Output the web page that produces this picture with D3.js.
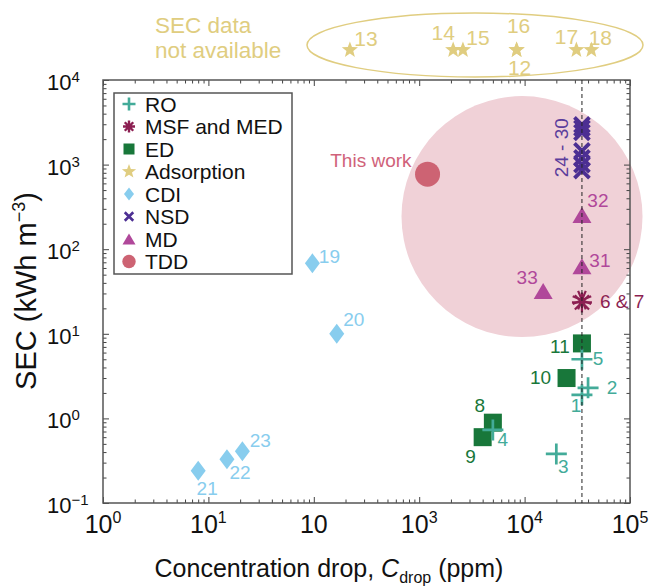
<!DOCTYPE html>
<html><head><meta charset="utf-8">
<script src="https://cdn.jsdelivr.net/npm/d3@7"></script>
<style>body{margin:0;background:#fff}svg text{font-family:"Liberation Sans",Arial,Helvetica,sans-serif}</style>
</head><body><svg id="c" width="650" height="586"></svg>
<script>
// ---------- data ----------
const xTickValues = [1, 10, 100, 1000, 10000, 100000];
const xTickLabels = [["10","0"],["10","1"],["10",""],["10","3"],["10","4"],["10","5"]];
const yTickValues = [0.1, 1, 10, 100, 1000, 10000];
const yTickLabels = [["10","−1"],["10","0"],["10","1"],["10","2"],["10","3"],["10","4"]];

const categories = ["RO","MSF and MED","ED","Adsorption","CDI","NSD","MD","TDD"];

const roIds = ["1","2","3","4","5"];
const roX = [35000, 40000, 20000, 5000, 35000];
const roY = [1.9, 2.3, 0.38, 0.73, 5.0];

const msfIds = ["6","7"];
const msfX = [35000, 35000];
const msfY = [23.5, 25];

const edIds = ["8","9","10","11"];
const edX = [5000, 4000, 25000, 35000];
const edY = [0.89, 0.6, 3.0, 7.7];

const adsIds = ["12","13","14","15","16","17","18"];
const adsX = [8400, 220, 2100, 2600, 8400, 31000, 43000];

const cdiIds = ["19","20","21","22","23"];
const cdiX = [97, 165, 8, 15, 21];
const cdiY = [68, 10, 0.24, 0.33, 0.41];

const nsdIds = ["24","25","26","27","28","29","30"];
const nsdX = [35000, 35000, 35000, 35000, 35000, 35000, 35000];
const nsdY = [2950, 2700, 2400, 1450, 1200, 1000, 850];

const mdIds = ["31","32","33"];
const mdX = [35000, 35000, 15000];
const mdY = [63, 253, 32];

const tddX = [1200];
const tddY = [770];

const seawaterX = 35000;
const regionCenterX = 9450, regionCenterY = 243;

// ---------- layout ----------
const L = 103, R = 630, T = 80, B = 503;
const x = d3.scaleLog().domain([1, 1e5]).range([L, R]);
const y = d3.scaleLog().domain([0.1, 1e4]).range([B, T]);

const col = {
  RO: "#43ab99", MSF: "#8c1f52", ED: "#18773a", ADS: "#e0cd80",
  CDI: "#88cdee", NSD: "#4d2f93", MD: "#b0489a", TDD: "#cd6373",
  region: "#f0d1d7", nsdText: "#5b3d9c", mdText: "#b94f9f", tddText: "#d0627a"
};

const svg = d3.select("#c");

// ---------- marker paths ----------
const plusPath = s => { const h = s/2; return `M${-h},0H${h}M0,${-h}V${h}`; };
const crossPath = s => { const h = s/2; return `M${-h},${-h}L${h},${h}M${-h},${h}L${h},${-h}`; };
const asteriskPath = s => { const h = s/2, d = h*0.7071;
  return `M${-h},0H${h}M0,${-h}V${h}M${-d},${-d}L${d},${d}M${-d},${d}L${d},${-d}`; };
const diamondPath = (w, h) => `M0,${-h/2}L${w/2},0L0,${h/2}L${-w/2},0Z`;
const trianglePath = (w, h) => `M0,${-h/2}L${w/2},${h/2}L${-w/2},${h/2}Z`;
const starPath = (Ro) => { const Ri = Ro*0.42; let p = "";
  for (let i = 0; i < 10; i++) { const r = i % 2 ? Ri : Ro; const a = -Math.PI/2 + i*Math.PI/5;
    p += (i ? "L" : "M") + (r*Math.cos(a)).toFixed(2) + "," + (r*Math.sin(a)).toFixed(2); }
  return p + "Z"; };

// ---------- region circle ----------
svg.append("circle").attr("cx", x(regionCenterX)).attr("cy", y(regionCenterY)).attr("r", 120.5)
  .attr("fill", col.region);

// ---------- axes / ticks ----------
const minorX = [], minorY = [];
for (let d = 0; d < 5; d++) for (let k = 2; k < 10; k++) minorX.push(k * Math.pow(10, d));
for (let d = -1; d < 4; d++) for (let k = 2; k < 10; k++) minorY.push(k * Math.pow(10, d));

function addAxis(axisFn, scale, vals, size, tr) {
  const g = svg.append("g").attr("transform", tr)
    .call(axisFn(scale).tickValues(vals).tickSize(size).tickFormat(""));
  g.select(".domain").remove();
  g.selectAll("line").attr("stroke", "#444").attr("stroke-width", 1);
}
addAxis(d3.axisBottom, x, xTickValues, -6, `translate(0,${B})`);
addAxis(d3.axisBottom, x, minorX, -3.5, `translate(0,${B})`);
addAxis(d3.axisTop, x, xTickValues, -6, `translate(0,${T})`);
addAxis(d3.axisTop, x, minorX, -3.5, `translate(0,${T})`);
addAxis(d3.axisLeft, y, yTickValues, -6, `translate(${L},0)`);
addAxis(d3.axisLeft, y, minorY, -3.5, `translate(${L},0)`);
addAxis(d3.axisRight, y, yTickValues, -6, `translate(${R},0)`);
addAxis(d3.axisRight, y, minorY, -3.5, `translate(${R},0)`);

svg.append("rect").attr("x", L).attr("y", T).attr("width", R - L).attr("height", B - T)
  .attr("fill", "none").attr("stroke", "#555").attr("stroke-width", 1.5);

// tick labels (whole label centred on the tick)
xTickValues.forEach((v, i) => {
  const t = svg.append("text").attr("x", x(v)).attr("y", B + 30).attr("text-anchor", "middle")
    .attr("font-size", 25).attr("fill", "#111");
  t.append("tspan").text(xTickLabels[i][0]);
  if (xTickLabels[i][1]) t.append("tspan").attr("dy", -10).attr("font-size", 16).text(xTickLabels[i][1]);
});
yTickValues.forEach((v, i) => {
  const t = svg.append("text").attr("x", 47).attr("y", y(v) + 10).attr("text-anchor", "start")
    .attr("font-size", 22).attr("fill", "#111");
  t.append("tspan").text(yTickLabels[i][0]);
  t.append("tspan").attr("dy", -8).attr("font-size", 15).text(yTickLabels[i][1]);
});

// axis titles
const xt = svg.append("text").attr("x", 329).attr("y", 577).attr("text-anchor", "middle")
  .attr("font-size", 25).attr("fill", "#111");
xt.append("tspan").text("Concentration drop, ");
xt.append("tspan").attr("font-style", "italic").text("C");
xt.append("tspan").attr("font-size", 16).attr("dy", 6).text("drop");
xt.append("tspan").attr("dy", -6).text(" (ppm)");

const yt = svg.append("text").attr("transform", "translate(36,291) rotate(-90)")
  .attr("text-anchor", "middle").attr("font-size", 29).attr("fill", "#111");
yt.append("tspan").text("SEC  (kWh m");
yt.append("tspan").attr("font-size", 18).attr("dy", -11).text("−3");
yt.append("tspan").attr("dy", 11).text(")");

// ---------- markers ----------
const g = svg.append("g");
function placeAll(ids, xs, ys, fn) { ids.forEach((id, i) => fn(x(xs[i]), ys ? y(ys[i]) : null, id, i)); }

// TDD
placeAll(["tw"], tddX, tddY, (px, py) => g.append("circle").attr("cx", px).attr("cy", py).attr("r", 12.5).attr("fill", col.TDD));
// CDI
placeAll(cdiIds, cdiX, cdiY, (px, py) => g.append("path").attr("d", diamondPath(15, 20))
  .attr("transform", `translate(${px},${py})`).attr("fill", col.CDI));
// ED
placeAll(edIds, edX, edY, (px, py) => g.append("rect").attr("x", px - 9).attr("y", py - 9)
  .attr("width", 18).attr("height", 18).attr("fill", col.ED));
// RO
placeAll(roIds, roX, roY, (px, py) => g.append("path").attr("d", plusPath(21))
  .attr("transform", `translate(${px},${py})`).attr("stroke", col.RO).attr("stroke-width", 2.7).attr("fill", "none"));
// MD
placeAll(mdIds, mdX, mdY, (px, py) => g.append("path").attr("d", trianglePath(19, 16))
  .attr("transform", `translate(${px},${py})`).attr("fill", col.MD));
// MSF
placeAll(msfIds, msfX, msfY, (px, py, id, i) => g.append("path").attr("d", asteriskPath(20))
  .attr("transform", `translate(${px},${py}) rotate(${i * 22.5})`).attr("stroke", col.MSF).attr("stroke-width", 2.2).attr("fill", "none"));
// NSD
placeAll(nsdIds, nsdX, nsdY, (px, py) => g.append("path").attr("d", crossPath(15))
  .attr("transform", `translate(${px},${py})`).attr("stroke", col.NSD).attr("stroke-width", 3.8).attr("fill", "none"));
// Adsorption (no SEC data) - placed above plot
const adsRowY = 50;
placeAll(adsIds, adsX, null, (px) => g.append("path").attr("d", starPath(8.5))
  .attr("transform", `translate(${px},${adsRowY})`).attr("fill", col.ADS));

// seawater dashed line
svg.append("line").attr("x1", x(seawaterX)).attr("x2", x(seawaterX)).attr("y1", T).attr("y2", B)
  .attr("stroke", "#222").attr("stroke-width", 1).attr("stroke-dasharray", "4,3");

// ---------- point labels ----------
const labelOff = {
  "1": [-6, 11], "2": [24, 0], "3": [7, 13], "4": [10, 10], "5": [16, -1],
  "8": [-13, -17], "9": [-12, 19], "10": [-26, -1], "11": [-22, 3],
  "12": [3, 17], "13": [16, -12], "14": [-10, -18], "15": [15, -13], "16": [2, -24.5], "17": [-10, -14], "18": [9, -13],
  "19": [17, -7], "20": [17, -14], "21": [9, 18], "22": [13, 13], "23": [18, -11],
  "31": [18, -6], "32": [16, -15], "33": [-16, -14]
};
function lab(px, py, id, color, fs) {
  const o = labelOff[id];
  svg.append("text").attr("x", px + o[0]).attr("y", py + o[1]).attr("text-anchor", "middle")
    .attr("dominant-baseline", "central").attr("font-size", fs || 19).attr("fill", color).text(id);
}
placeAll(roIds, roX, roY, (px, py, id) => lab(px, py, id, col.RO));
placeAll(edIds, edX, edY, (px, py, id) => lab(px, py, id, col.ED));
placeAll(adsIds, adsX, null, (px, py, id) => lab(px, adsRowY, id, col.ADS, 21));
placeAll(cdiIds, cdiX, cdiY, (px, py, id) => lab(px, py, id, col.CDI));
placeAll(mdIds, mdX, mdY, (px, py, id) => lab(px, py, id, col.MD));

svg.append("text").attr("x", x(msfX[0]) + 18).attr("y", y(24)).attr("dominant-baseline", "central")
  .attr("font-size", 19).attr("fill", col.MSF).text(msfIds.join(" & "));
svg.append("text").attr("transform", `translate(${x(nsdX[0]) - 20.5},${(y(nsdY[0]) + y(nsdY[6])) / 2}) rotate(-90)`)
  .attr("text-anchor", "middle").attr("dominant-baseline", "central").attr("font-size", 19).attr("fill", col.nsdText)
  .text(nsdIds[0] + " - " + nsdIds[nsdIds.length - 1]);
svg.append("text").attr("x", x(tddX[0]) - 16).attr("y", y(tddY[0]) - 14).attr("text-anchor", "end")
  .attr("dominant-baseline", "central").attr("font-size", 19).attr("fill", col.tddText).text("This work");

// ---------- "SEC data not available" ----------
svg.append("ellipse").attr("cx", 475).attr("cy", 45).attr("rx", 168).attr("ry", 32)
  .attr("fill", "none").attr("stroke", col.ADS).attr("stroke-width", 1.5);
svg.append("text").attr("x", 155).attr("y", 32.5).attr("font-size", 22.5).attr("fill", col.ADS).text("SEC data");
svg.append("text").attr("x", 155).attr("y", 57.5).attr("font-size", 22.5).attr("fill", col.ADS).text("not available");

// ---------- legend ----------
const lg = svg.append("g");
lg.append("rect").attr("x", 114).attr("y", 93).attr("width", 178).attr("height", 181)
  .attr("fill", "#fff").attr("stroke", "#555").attr("stroke-width", 1.5);
const legendSym = {
  "RO": s => s.append("path").attr("d", plusPath(13)).attr("stroke", col.RO).attr("stroke-width", 2.6).attr("fill", "none"),
  "MSF and MED": s => s.append("path").attr("d", asteriskPath(12)).attr("stroke", col.MSF).attr("stroke-width", 2.4).attr("fill", "none"),
  "ED": s => s.append("rect").attr("x", -5.5).attr("y", -5.5).attr("width", 11).attr("height", 11).attr("fill", col.ED),
  "Adsorption": s => s.append("path").attr("d", starPath(7.5)).attr("fill", col.ADS),
  "CDI": s => s.append("path").attr("d", diamondPath(10, 13)).attr("fill", col.CDI),
  "NSD": s => s.append("path").attr("d", crossPath(8.5)).attr("stroke", col.NSD).attr("stroke-width", 2.6).attr("fill", "none"),
  "MD": s => s.append("path").attr("d", trianglePath(13, 11)).attr("fill", col.MD),
  "TDD": s => s.append("circle").attr("r", 6.7).attr("fill", col.TDD)
};
categories.forEach((c, i) => {
  const cy = 104 + i * 22.5;
  const s = lg.append("g").attr("transform", `translate(129,${cy})`);
  legendSym[c](s);
  lg.append("text").attr("x", 145).attr("y", cy).attr("dominant-baseline", "central")
    .attr("font-size", 21).attr("fill", "#111").text(c);
});
</script>
</body></html>
